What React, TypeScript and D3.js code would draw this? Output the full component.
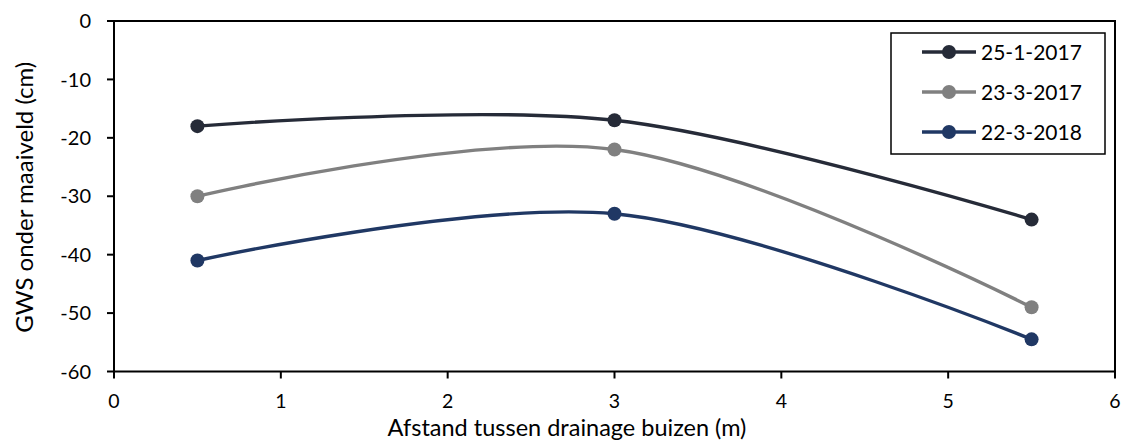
import React from "react";
import * as d3 from "d3";

// Distance between drainage pipes (m)
const distances = [0.5, 3, 5.5];

// Groundwater level below ground surface (cm), one array per measurement date
const gws_25_1_2017 = [-18, -17, -34];
const gws_23_3_2017 = [-30, -22, -49];
const gws_22_3_2018 = [-41, -33, -54.5];

const seriesNames = ["25-1-2017", "23-3-2017", "22-3-2018"];
const seriesColors = ["#262b38", "#808080", "#203864"];

const xTicks = [0, 1, 2, 3, 4, 5, 6];
const yTicks = [0, -10, -20, -30, -40, -50, -60];

const xTitle = "Afstand tussen drainage buizen (m)";
const yTitle = "GWS onder maaiveld (cm)";

const W = 1124;
const H = 441;
const M = { left: 114, right: 9, top: 21, bottom: 69.5 };
const FONT = "Lato, 'Open Sans', sans-serif";

export default function App() {
  const x = d3.scaleLinear().domain([0, 6]).range([M.left, W - M.right]);
  const y = d3.scaleLinear().domain([-60, 0]).range([H - M.bottom, M.top]);

  const series = [gws_25_1_2017, gws_23_3_2017, gws_22_3_2018];
  const line = d3
    .line<[number, number]>()
    .x((d) => x(d[0]))
    .y((d) => y(d[1]))
    .curve(d3.curveCardinal.tension(0));

  const x0 = x(0);
  const x1 = x(6);
  const yTop = y(0);
  const yBot = y(-60);

  const legendX = 891;
  const legendY = 33;
  const legendW = 214;
  const legendH = 121;

  return (
    <svg
      width={W}
      height={H}
      style={{ position: "absolute", left: 0, top: 0, background: "#fff" }}
      fontFamily={FONT}
    >
      {/* plot frame */}
      <rect x={x0} y={yTop} width={x1 - x0} height={yBot - yTop} fill="none" stroke="#000" strokeWidth={2} />

      {/* y axis ticks and labels */}
      {yTicks.map((t) => (
        <g key={"y" + t}>
          <line x1={x0 - 7} x2={x0} y1={y(t)} y2={y(t)} stroke="#000" strokeWidth={2} />
          <text x={91} y={y(t)} dy="0.36em" textAnchor="end" fontSize={20} fill="#000">
            {t}
          </text>
        </g>
      ))}

      {/* x axis ticks and labels */}
      {xTicks.map((t) => (
        <g key={"x" + t}>
          <line x1={x(t)} x2={x(t)} y1={yBot} y2={yBot + 7} stroke="#000" strokeWidth={2} />
          <text x={x(t)} y={yBot + 36.5} textAnchor="middle" fontSize={19.5} fill="#000">
            {t}
          </text>
        </g>
      ))}

      {/* axis titles */}
      <text x={567} y={436} textAnchor="middle" fontSize={23.5} fill="#000">
        {xTitle}
      </text>
      <text
        transform={`translate(33, ${(yTop + yBot) / 2 + 1}) rotate(-90)`}
        textAnchor="middle"
        fontSize={24}
        fill="#000"
      >
        {yTitle}
      </text>

      {/* series */}
      {series.map((vals, i) => {
        const pts = distances.map((d, j) => [d, vals[j]] as [number, number]);
        return (
          <g key={seriesNames[i]}>
            <path d={line(pts) ?? ""} fill="none" stroke={seriesColors[i]} strokeWidth={3.4} />
            {pts.map((p, j) => (
              <circle key={j} cx={x(p[0])} cy={y(p[1])} r={7} fill={seriesColors[i]} />
            ))}
          </g>
        );
      })}

      {/* legend */}
      <rect x={legendX} y={legendY} width={legendW} height={legendH} fill="#fff" stroke="#000" strokeWidth={1.5} />
      {seriesNames.map((name, i) => {
        const cy = 52 + i * 40;
        return (
          <g key={"lg" + name}>
            <line x1={922} x2={976} y1={cy} y2={cy} stroke={seriesColors[i]} strokeWidth={3.4} />
            <circle cx={949} cy={cy} r={7} fill={seriesColors[i]} />
            <text x={981} y={cy} dy="0.36em" fontSize={21} fill="#000">
              {name}
            </text>
          </g>
        );
      })}
    </svg>
  );
}
